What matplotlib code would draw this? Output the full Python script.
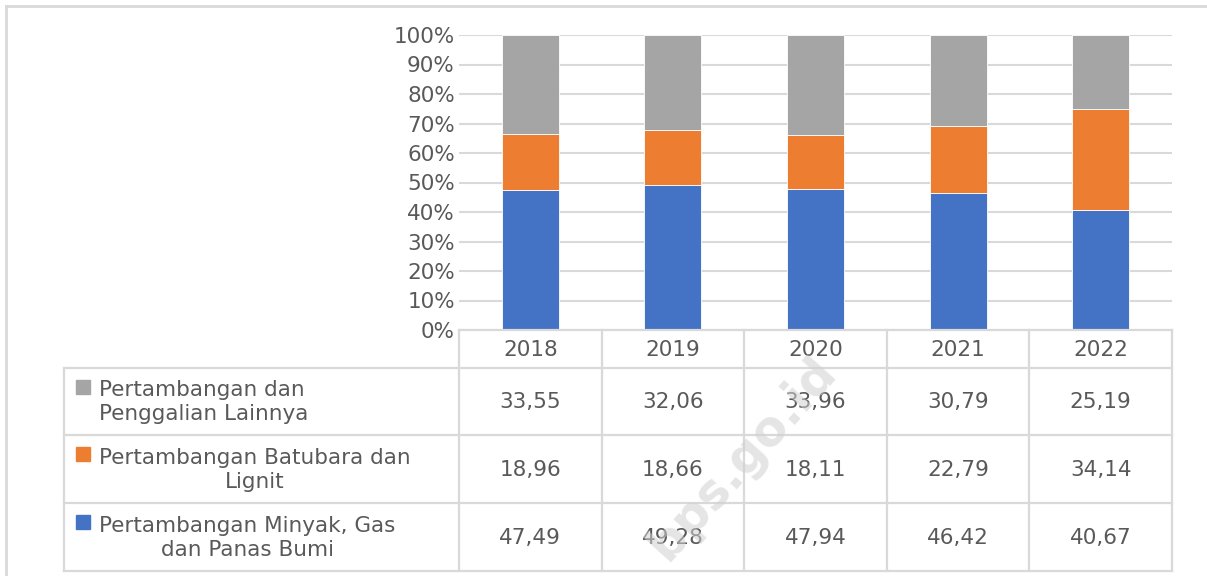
import matplotlib
matplotlib.use("Agg")
import matplotlib.pyplot as plt
import matplotlib.transforms as mtransforms
from matplotlib.lines import Line2D
from matplotlib.patches import Rectangle
import numpy as np

plt.rcParams['font.family'] = ['DejaVu Sans']

years = ["2018", "2019", "2020", "2021", "2022"]
lainnya = [33.55, 32.06, 33.96, 30.79, 25.19]
batubara = [18.96, 18.66, 18.11, 22.79, 34.14]
migas = [47.49, 49.28, 47.94, 46.42, 40.67]

series_names = ["Pertambangan dan\nPenggalian Lainnya",
                "Pertambangan Batubara dan\nLignit",
                "Pertambangan Minyak, Gas\ndan Panas Bumi"]
name_align = ['left', 'center', 'center']

abu = "#A5A5A5"
oranye = "#ED7D31"
biru = "#4472C4"
teks = "#595959"
garis = "#D9D9D9"
fs = 15.5

W, H = 1207, 576
fx = lambda px: px / W
fy = lambda py: 1 - py / H

fig = plt.figure(figsize=(W / 100, H / 100), dpi=100)
ax = fig.add_axes([fx(459), fy(330), fx(1172) - fx(459), fy(35) - fy(330)])

ind = np.arange(len(years))
width = 0.4
ax.bar(ind, migas, width, color=biru, edgecolor="white", linewidth=0.6, zorder=3)
ax.bar(ind, batubara, width, bottom=migas, color=oranye, edgecolor="white", linewidth=0.6, zorder=3)
bottom2 = np.array(migas) + np.array(batubara)
ax.bar(ind, lainnya, width, bottom=bottom2, color=abu, edgecolor="white", linewidth=0.6, zorder=3)

ax.set_xlim(-0.5, len(years) - 0.5)
ax.set_ylim(0, 100)
ax.set_yticks(np.arange(0, 101, 10))
ax.set_yticklabels([f"{v}%" for v in range(0, 101, 10)], fontsize=fs, color=teks)
ax.set_xticks([])
ax.tick_params(axis='y', length=0, pad=3)
ax.yaxis.grid(color=garis, lw=1.5, zorder=0)
for s in ax.spines.values():
    s.set_visible(False)

# data table under the bars
trans = mtransforms.blended_transform_factory(ax.transData, fig.transFigure)
rows = [368, 435, 503, 571]
lw_t = 1.6

for k in range(len(years) + 1):
    fig.add_artist(Line2D([k - 0.5, k - 0.5], [fy(330), fy(571)], color=garis, lw=lw_t, transform=trans))
fig.add_artist(Line2D([fx(64), fx(64)], [fy(368), fy(571)], color=garis, lw=lw_t, transform=fig.transFigure))
fig.add_artist(Line2D([fx(459), fx(1172)], [fy(330), fy(330)], color=garis, lw=lw_t, transform=fig.transFigure))
for r in rows:
    fig.add_artist(Line2D([fx(64), fx(1172)], [fy(r), fy(r)], color=garis, lw=lw_t, transform=fig.transFigure))

for i, y in enumerate(years):
    fig.text(i, fy(350), y, transform=trans, ha='center', va='center', fontsize=fs, color=teks)

table_vals = [lainnya, batubara, migas]
warna = [abu, oranye, biru]
for j, vals in enumerate(table_vals):
    yc = (rows[j] + rows[j + 1]) / 2
    for i, v in enumerate(vals):
        fig.text(i, fy(yc + 1), f"{v:.2f}".replace(".", ","), transform=trans,
                 ha='center', va='center', fontsize=fs, color=teks)
    fig.text(fx(99), fy(yc + 1), series_names[j], ha='left', va='center',
             multialignment=name_align[j], fontsize=fs, color=teks, linespacing=1.25)
    fig.add_artist(Rectangle((fx(76), fy(yc - 8)), fx(14), 14 / H, color=warna[j],
                             transform=fig.transFigure))

# outer frame
fig.add_artist(Line2D([fx(6), fx(6)], [fy(6), 0], color=garis, lw=2, transform=fig.transFigure))
fig.add_artist(Line2D([fx(6), 1], [fy(6), fy(6)], color=garis, lw=2, transform=fig.transFigure))

# watermark
fig.text(fx(742), fy(458), "bps.go.id", ha='center', va='center', rotation=48,
         fontsize=35, fontweight='bold', color="#D0D0D0", alpha=0.55)

plt.savefig("out.png", dpi=100)
